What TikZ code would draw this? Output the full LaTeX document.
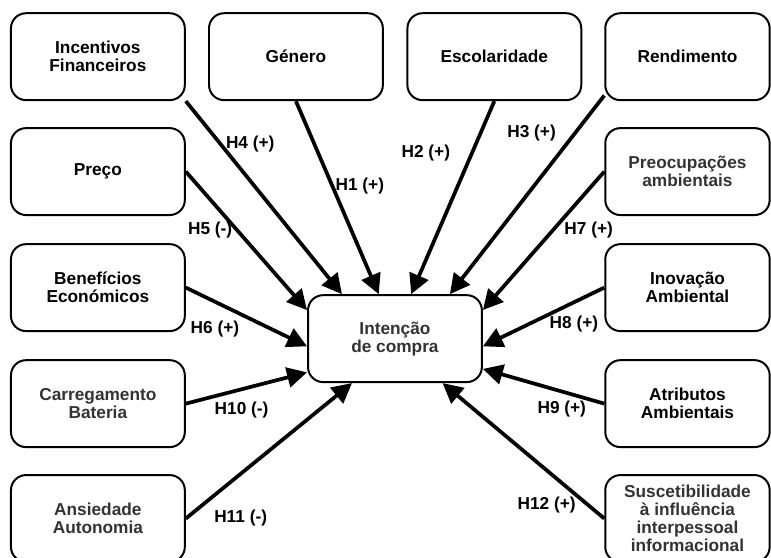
\documentclass[tikz,border=0pt]{standalone}
\usepackage{fontspec}
\setmainfont{Liberation Sans}
\usetikzlibrary{arrows.meta}
\definecolor{darktext}{HTML}{333333}

\begin{document}
\begin{tikzpicture}[
        box/.style={draw, line width=1.5pt, rounded corners=0.4cm, fill=white,
            minimum width=4.6cm, minimum height=2.3cm, align=center,
            font=\fontsize{13}{13.5}\selectfont\bfseries},
        rbox/.style={box, minimum width=4.35cm},
        hyp/.style={font=\fontsize{13}{13.5}\selectfont\bfseries, inner sep=1pt},
        link/.style={->, line width=2.8pt},
        >={Triangle[length=15pt, width=15pt]}
    ]
        \useasboundingbox (0, 0) rectangle (20.40, 14.74);

        \node[box] (incent) at (2.59, 13.24) {Incentivos\\Financeiros};
        \node[box] (genero) at (7.83, 13.24) {Género};
        \node[box] (escol) at (13.08, 13.24) {Escolaridade};
        \node[rbox] (rend) at (18.19, 13.24) {Rendimento};

        \node[box] (preco) at (2.59, 10.20) {Preço};
        \node[box] (benef) at (2.59, 7.13) {Benefícios\\Económicos};
        \node[box, text=darktext] (carreg) at (2.59, 4.06) {Carregamento\\Bateria};
        \node[box, text=darktext] (ansied) at (2.59, 1.02) {Ansiedade\\Autonomia};

        \node[rbox, text=darktext] (preoc) at (18.19, 10.20) {Preocupações\\ambientais};
        \node[rbox] (inov) at (18.19, 7.13) {Inovação\\Ambiental};
        \node[rbox] (atrib) at (18.19, 4.06) {Atributos\\Ambientais};
        \node[rbox, text=darktext] (susc) at (18.19, 1.02) {Suscetibilidade\\à influência\\interpessoal\\informacional};

        \node[box, text=darktext] (intent) at (10.45, 5.78) {Intenção\\de compra};

        \draw[link] (incent.south east) -- node[hyp, pos=0.22, right=2pt] (h4) {H4 (+)} (intent.140);
        \draw[link] (genero.south) -- node[hyp, pos=0.44, right=0pt] (h1) {H1 (+)} (intent.110);
        \draw[link] (escol.south) -- node[hyp, pos=0.27, left=14pt] (h2) {H2 (+)} (intent.70);
        \draw[link] (rend.205) -- node[hyp, pos=0.19, left=12pt] (h3) {H3 (+)} (intent.39);
        \draw[link] (preco.east) -- node[hyp, pos=0.42, left=1pt] (h5) {H5 (-)} (intent.162);
        \draw[link] (preoc.west) -- node[hyp, pos=0.42, right=6pt] (h7) {H7 (+)} (intent.18.5);
        \draw[link] (benef.east) -- node[hyp, pos=0.24, below=12pt] (h6) {H6 (+)} (intent.185.5);
        \draw[link] (inov.west) -- node[hyp, pos=0.25, below=8pt] (h8) {H8 (+)} (intent.355);
        \draw[link] (carreg.east) -- node[hyp, pos=0.46, below=7pt] (h10) {H10 (-)} (intent.201);
        \draw[link] (atrib.west) -- node[hyp, pos=0.35, below=5pt] (h9) {H9 (+)} (intent.341);
        \draw[link] (ansied.east) -- node[hyp, pos=0.33, below=25pt] (h11) {H11 (-)} (intent.226);
        \draw[link] (susc.west) -- node[hyp, pos=0.1, left=7pt] (h12) {H12 (+)} (intent.317);
    \end{tikzpicture}
\end{document}
